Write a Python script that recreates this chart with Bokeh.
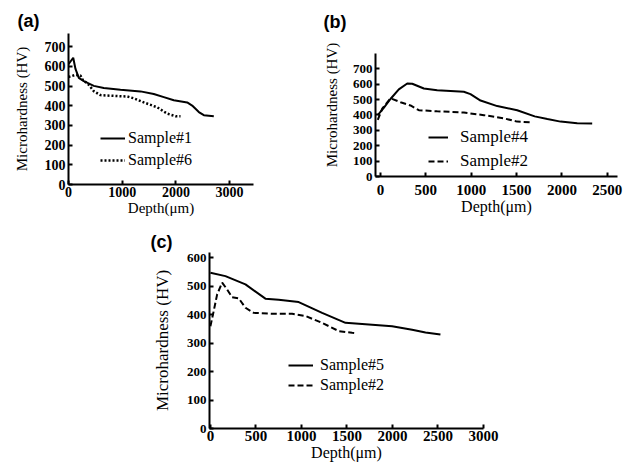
from bokeh.plotting import figure
from bokeh.layouts import column, row
from bokeh.models import Spacer, Legend, LegendItem, FixedTicker, Range1d
from bokeh.embed import file_html
from bokeh.resources import INLINE

# ---- data ----
# panel (a)
a_s1_x = [0, 88, 130, 192, 285, 471, 657, 968, 1341, 1588, 1775, 1961, 2210, 2303, 2427, 2520, 2706]
a_s1_y = [611, 644, 587, 542, 525, 501, 490, 481, 473, 460, 444, 428, 417, 401, 368, 352, 347]
a_s6_x = [0, 130, 223, 255, 378, 471, 596, 782, 1093, 1216, 1403, 1652, 1838, 1993, 2086]
a_s6_y = [546, 557, 554, 535, 506, 474, 454, 451, 447, 438, 417, 392, 360, 347, 347]
# panel (b)
b_s4_x = [-30, 36, 110, 202, 295, 350, 478, 625, 919, 992, 1103, 1287, 1507, 1700, 1840, 1985, 2169, 2334]
b_s4_y = [399, 446, 504, 567, 605, 603, 572, 561, 551, 536, 494, 458, 431, 391, 374, 357, 347, 345]
b_s2_x = [-30, 19, 110, 221, 331, 423, 625, 919, 1140, 1360, 1507, 1650]
b_s2_y = [368, 441, 509, 483, 462, 431, 424, 416, 399, 378, 357, 353]
# panel (c)
c_s5_x = [0, 165, 385, 604, 750, 970, 1227, 1484, 1667, 1996, 2216, 2363, 2527]
c_s5_y = [547, 535, 506, 456, 452, 444, 406, 371, 367, 359, 347, 337, 330]
c_s2_x = [0, 36, 74, 129, 184, 238, 311, 385, 476, 678, 898, 1044, 1227, 1410, 1557, 1612]
c_s2_y = [359, 412, 471, 512, 488, 461, 457, 424, 406, 403, 403, 395, 371, 342, 336, 334]

a_xticks = [0, 1000, 2000, 3000]
a_yticks = [0, 100, 200, 300, 400, 500, 600, 700]
b_xticks = [0, 500, 1000, 1500, 2000, 2500]
b_yticks = [0, 100, 200, 300, 400, 500, 600, 700]
c_xticks = [0, 500, 1000, 1500, 2000, 2500, 3000]
c_yticks = [0, 100, 200, 300, 400, 500, 600]

SERIF = "Liberation Serif"


def make_fig(fw, fh, left, right, top, bottom, xr, yr, xt, yt, tick_px, ylab_px, xlab_px,
             ylab_standoff, xtick_standoff, tag, tag_offset, tag_standoff, ybounds=None):
    p = figure(frame_width=fw, frame_height=fh, output_backend="svg", toolbar_location=None,
               x_range=Range1d(*xr), y_range=Range1d(*yr),
               min_border_left=left, min_border_right=right,
               min_border_top=top, min_border_bottom=bottom)
    p.title.text = tag
    p.title.align = "left"
    p.title.offset = tag_offset
    p.title.standoff = tag_standoff
    p.title.text_font = "Liberation Sans"
    p.title.text_font_style = "bold"
    p.title.text_font_size = "18px"
    p.title.text_color = "black"
    p.outline_line_color = None
    p.grid.visible = False
    p.xaxis.ticker = FixedTicker(ticks=xt)
    p.yaxis.ticker = FixedTicker(ticks=yt)
    if ybounds is not None:
        p.yaxis.bounds = ybounds
    for ax in (p.xaxis[0], p.yaxis[0]):
        ax.axis_line_width = 2
        ax.axis_line_color = "black"
        ax.major_tick_in = 4
        ax.major_tick_out = 0
        ax.major_tick_line_width = 2
        ax.minor_tick_line_color = None
        ax.major_label_text_font = SERIF
        ax.major_label_text_font_style = "bold"
        ax.major_label_text_color = "black"
        ax.axis_label_text_font = SERIF
        ax.axis_label_text_font_style = "normal"
        ax.axis_label_text_color = "black"
        ax.axis_label_standoff = 0
    p.xaxis.major_label_standoff = xtick_standoff
    p.yaxis.major_label_standoff = 3
    p.yaxis.axis_label_standoff = ylab_standoff
    p.xaxis.major_label_text_font_size = tick_px[0]
    p.yaxis.major_label_text_font_size = tick_px[1]
    p.yaxis.axis_label = "Microhardness (HV)"
    p.yaxis.axis_label_text_font_size = ylab_px
    p.xaxis.axis_label = "Depth(\u03bcm)"
    p.xaxis.axis_label_text_font_size = xlab_px
    return p


def add_legend(p, items, loc, glyph_w, standoff, item_h, font_px):
    lg = Legend(items=items, location=loc, padding=0, margin=0, spacing=0,
                border_line_alpha=0, background_fill_alpha=0,
                glyph_width=glyph_w, glyph_height=item_h, label_height=item_h,
                label_standoff=standoff, label_text_font=SERIF,
                label_text_font_size=font_px, label_text_color="black")
    p.add_layout(lg, "center")


# ---- panel (a) ----
pa = make_fig(185, 151, 68, 65, 33, 34, (0, 3445), (0, 767), a_xticks, a_yticks,
              ("14px", "14px"), "15px", "15px", 12, 2, "(a)", -51, 5)
r1 = pa.line(a_s1_x, a_s1_y, line_color="black", line_width=2)
r6 = pa.line(a_s6_x, a_s6_y, line_color="black", line_width=2.5, line_dash="2 2")
add_legend(pa, [LegendItem(label="Sample#1", renderers=[r1]),
                LegendItem(label="Sample#6", renderers=[r6])],
           (32, 13), 25, 3, 22, "16px")

# ---- panel (b) ----
# frame top is aligned with panel (a); the axis line is bounded to 0-800
pb = make_fig(242, 143, 57, 14, 33, 42, (-55, 2613), (0, 930), b_xticks, b_yticks,
              ("15px", "13px"), "15px", "16px", 10, 8, "(b)", -52, 3, ybounds=(0, 800))
r4 = pb.line(b_s4_x, b_s4_y, line_color="black", line_width=2)
r2 = pb.line(b_s2_x, b_s2_y, line_color="black", line_width=2, line_dash="6 3")
add_legend(pb, [LegendItem(label="Sample#4", renderers=[r4]),
                LegendItem(label="Sample#2", renderers=[r2])],
           (53, 3), 20, 12, 24, "17px")

# ---- panel (c) ----
pc = make_fig(274, 176, 61, 17, 34, 35, (-10, 3000), (0, 618), c_xticks, c_yticks,
              ("15px", "13px"), "17px", "16px", 12, 2, "(c)", -59, 2)
r5 = pc.line(c_s5_x, c_s5_y, line_color="black", line_width=2)
r2c = pc.line(c_s2_x, c_s2_y, line_color="black", line_width=2, line_dash="6 3")
add_legend(pc, [LegendItem(label="Sample#5", renderers=[r5]),
                LegendItem(label="Sample#2", renderers=[r2c])],
           (79, 33), 25, 7, 20, "16px")

layout = column(row(pa, pb), row(Spacer(width=148, height=10), pc))

open("out.html", "w").write(file_html(layout, INLINE))
